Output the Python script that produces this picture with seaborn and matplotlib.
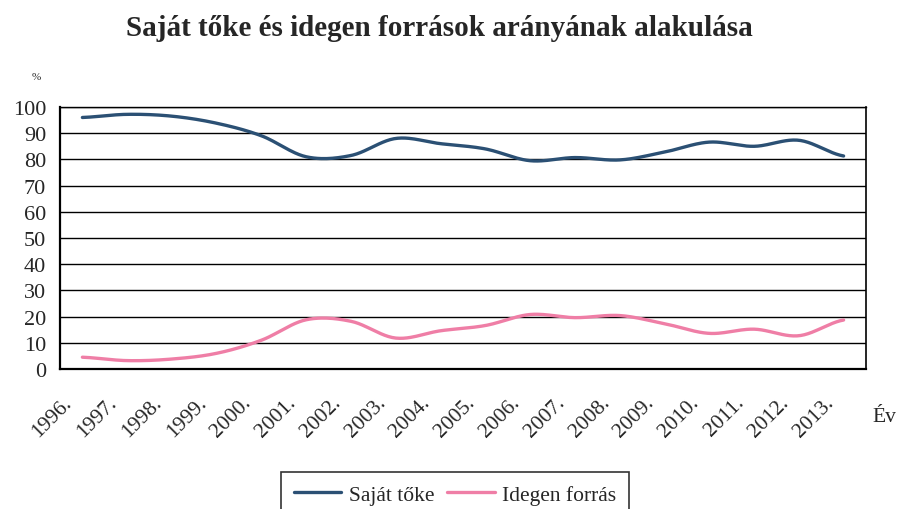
import numpy as np
import pandas as pd
import matplotlib
matplotlib.use("Agg")
import matplotlib.pyplot as plt
import matplotlib.transforms as mtransforms
import seaborn as sns

years = ["1996.", "1997.", "1998.", "1999.", "2000.", "2001.", "2002.", "2003.", "2004.",
         "2005.", "2006.", "2007.", "2008.", "2009.", "2010.", "2011.", "2012.", "2013."]
sajat_toke = [96.0, 97.2, 96.5, 93.8, 89.0, 81.0, 81.5, 88.0, 86.0,
              84.0, 79.5, 80.7, 79.8, 82.8, 86.6, 85.0, 87.3, 81.3]
idegen_forras = [4.5, 3.2, 3.8, 6.0, 11.0, 18.8, 18.2, 11.8, 14.6,
                 16.6, 20.8, 19.6, 20.4, 17.3, 13.6, 15.2, 12.7, 18.7]
series_names = ["Saját tőke", "Idegen forrás"]
colors = ["#2b5074", "#ef7ea6"]
yticks = list(range(0, 101, 10))


def smooth(y, n=24):
    """Catmull-Rom smoothing through the data points (like Excel smoothed lines)."""
    y = np.asarray(y, float)
    m = len(y)
    yp = np.concatenate([[y[0]], y, [y[-1]]])
    xs, ys = [], []
    for i in range(m - 1):
        p0, p1, p2, p3 = yp[i], yp[i + 1], yp[i + 2], yp[i + 3]
        t = np.linspace(0, 1, n, endpoint=False)
        v = 0.5 * ((2 * p1) + (-p0 + p2) * t + (2 * p0 - 5 * p1 + 4 * p2 - p3) * t ** 2
                   + (-p0 + 3 * p1 - 3 * p2 + p3) * t ** 3)
        xs.append(i + t)
        ys.append(v)
    xs.append([m - 1])
    ys.append([y[-1]])
    return np.concatenate(xs), np.concatenate(ys)


frames = []
for name, vals in zip(series_names, [sajat_toke, idegen_forras]):
    sx, sy = smooth(vals)
    frames.append(pd.DataFrame({"x": sx, "y": sy, "series": name}))
df = pd.concat(frames, ignore_index=True)

sns.set_theme(style="white")
plt.rcParams["font.family"] = ["Liberation Serif", "DejaVu Serif"]

W, H = 898, 510
fig = plt.figure(figsize=(W / 100, H / 100), dpi=100)
left, right, top, bottom = 60, 866, 108, 370
ax = fig.add_axes([left / W, 1 - bottom / H, (right - left) / W, (bottom - top) / H])

sns.lineplot(data=df, x="x", y="y", hue="series", palette=colors, sort=False,
             estimator=None, linewidth=2.4, legend=False, ax=ax)

n = len(years)
ax.set_xlim(-0.5, n - 0.5)
ax.set_ylim(0, 100)
ax.set_xlabel("")
ax.set_ylabel("")

# grid
ax.set_yticks(yticks)
ax.set_yticklabels([str(v) for v in yticks], fontsize=16)
for v in yticks[1:]:
    ax.axhline(v, color="black", lw=1.0, zorder=0)

# x ticks at category boundaries, labels at centers
ax.set_xticks(np.arange(-0.5, n, 1.0))
ax.set_xticklabels([])
ax.set_xticks(np.arange(n), minor=True)
ax.set_xticklabels(years, minor=True, rotation=45, ha="right", va="center",
                   rotation_mode="anchor", fontsize=15.5)
ax.tick_params(axis="x", which="major", direction="out", length=5, width=1.2, color="black")
ax.tick_params(axis="x", which="minor", length=0, pad=22)
ax.tick_params(axis="y", direction="out", length=5, width=1.2, color="black", pad=5)
offset = mtransforms.ScaledTranslation(-13 / 100, 0, fig.dpi_scale_trans)
for lab in ax.get_xticklabels(minor=True):
    lab.set_transform(lab.get_transform() + offset)

for s in ["left", "bottom"]:
    ax.spines[s].set_color("black")
    ax.spines[s].set_linewidth(1.6)
ax.spines["right"].set_color("black")
ax.spines["right"].set_linewidth(1.2)
ax.spines["top"].set_color("black")
ax.spines["top"].set_linewidth(1.0)

fig.text(439 / W, 1 - 36 / H, "Saját tőke és idegen források arányának alakulása",
         ha="center", va="baseline", fontsize=21, fontweight="bold")
fig.text(36 / W, 1 - 77 / H, "%", ha="center", va="center", fontsize=8)
fig.text(872 / W, 1 - 418 / H, "Év", ha="left", va="center", fontsize=15.5)

leg = fig.legend(ax.lines[:2], series_names, loc="upper center",
                 bbox_to_anchor=(455 / W, 1 - 473 / H), ncol=2, frameon=True,
                 fontsize=15.5, handlelength=2.2, handletextpad=0.35, columnspacing=0.6,
                 borderpad=0.6, borderaxespad=0, fancybox=False)
leg.get_frame().set_edgecolor("black")
leg.get_frame().set_linewidth(1.2)

fig.savefig("out.png", dpi=100)
